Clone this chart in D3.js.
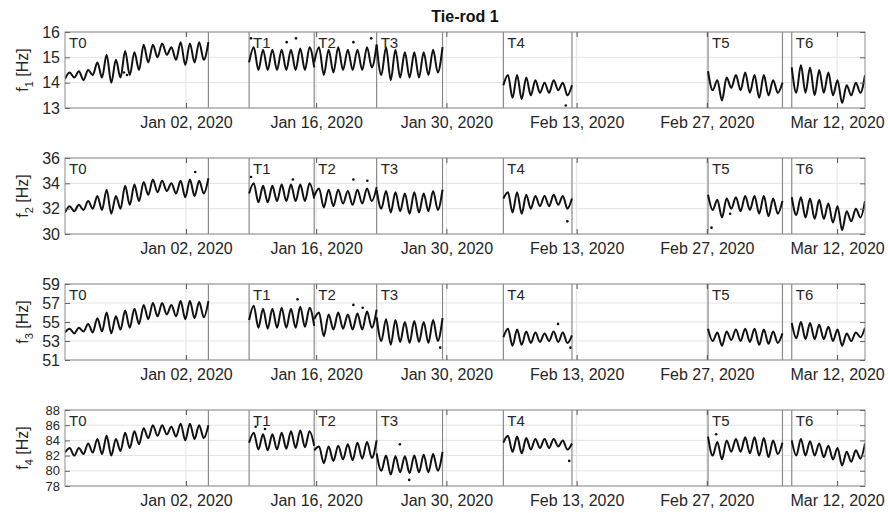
<!DOCTYPE html>
<html><head><meta charset="utf-8">
<script src="https://cdn.jsdelivr.net/npm/d3@7"></script>
<style>
body{margin:0;background:#fff}
text{font-family:"Liberation Sans",Arial,Helvetica,sans-serif}
</style>
</head><body>
<svg id="c" width="888" height="513"></svg>
<script>
// ---------- DATA ----------
const title = "Tie-rod 1";
const xDomain = ["2019-12-20T00:00", "2020-03-15T00:00"];
const tickDates = ["2020-01-02", "2020-01-16", "2020-01-30", "2020-02-13", "2020-02-27", "2020-03-12"];
const segLabels = ["T0", "T1", "T2", "T3", "T4", "T5", "T6"];
const segStart = ["2019-12-20T00:00", "2020-01-08T19:00", "2020-01-15T19:00", "2020-01-22T12:00", "2020-02-05T03:00", "2020-02-27T03:00", "2020-03-07T03:00"];
const segEnd   = ["2020-01-04T10:00", "2020-01-15T19:00", "2020-01-22T12:00", "2020-01-29T14:00", "2020-02-12T12:00", "2020-03-06T03:00", "2020-03-15T00:00"];
const boundaryDates = ["2020-01-04T10:00", "2020-01-08T19:00", "2020-01-15T19:00", "2020-01-22T12:00", "2020-01-29T14:00", "2020-02-05T03:00", "2020-02-12T12:00", "2020-02-27T03:00", "2020-03-06T03:00", "2020-03-07T03:00"];

const yLabelsIdx = ["1", "2", "3", "4"];
const yDomains = [[13, 16], [30, 36], [51, 59], [78, 88]];
const yTicks = [[13, 14, 15, 16], [30, 32, 34, 36], [51, 53, 55, 57, 59], [78, 80, 82, 84, 86, 88]];

// values per segment (T0..T6)
const f1 = [
  [14.15,14.4,14.2,14.45,14.1,14.5,14.3,14.8,14.2,15.1,14.0,14.9,14.2,15.25,14.3,15.2,14.5,15.5,14.8,15.5,15.0,15.55,15.1,15.4,14.9,15.6,14.7,15.55,14.8,15.6,14.9,15.6],
  [14.8,15.4,14.5,15.3,14.5,15.3,14.5,15.3,14.5,15.3,14.5,15.35,14.5,15.4,14.6],
  [14.8,15.4,14.3,15.3,14.4,15.4,14.5,15.3,14.5,15.3,14.5,15.4,14.6,15.5],
  [15.5,14.3,15.4,14.1,15.3,14.2,15.2,14.2,15.2,14.2,15.2,14.3,15.3,14.4,15.4],
  [13.9,14.3,13.4,14.3,13.35,14.2,13.5,14.1,13.6,14.0,13.6,14.1,13.7,14.0,13.5,13.9],
  [14.45,13.7,14.1,13.3,14.2,13.8,14.3,13.7,14.4,13.6,14.3,13.4,14.3,13.5,14.1,13.6,14.0],
  [14.6,13.6,14.7,13.6,14.6,13.5,14.5,13.6,14.4,13.5,14.1,13.2,13.9,13.5,14.0,13.6,14.3]
];
const f2 = [
  [31.7,32.2,31.8,32.3,31.9,32.6,32.0,33.0,31.9,33.5,31.6,33.0,32.0,33.8,32.3,33.9,32.6,34.1,33.1,34.3,33.3,34.2,33.4,34.0,33.2,34.2,32.9,34.3,33.0,34.2,33.2,34.4],
  [33.2,34.0,32.5,33.8,32.5,33.8,32.6,33.9,32.6,33.9,32.6,33.9,32.6,34.0,32.8],
  [33.0,33.6,32.1,33.5,32.2,33.5,32.4,33.4,32.3,33.5,32.4,33.6,32.6,33.7],
  [33.5,32.0,33.4,31.7,33.3,31.8,33.2,31.6,33.3,31.7,33.2,31.8,33.4,31.9,33.5],
  [32.8,33.3,31.7,33.3,31.6,33.1,32.0,33.0,32.2,33.0,32.2,33.1,32.3,33.0,32.0,32.8],
  [33.1,31.9,32.7,31.3,32.8,32.0,32.9,31.8,33.0,31.9,33.0,31.6,33.0,31.4,32.8,31.6,32.6],
  [32.9,31.5,32.9,31.3,32.8,31.2,32.7,31.2,32.4,30.9,32.2,30.3,31.8,31.0,32.0,31.3,32.6]
];
const f3 = [
  [53.9,54.3,53.8,54.4,54.0,54.8,53.9,55.4,54.0,56.0,53.8,55.6,54.2,56.2,54.4,56.4,54.8,56.8,55.3,57.0,55.6,57.0,55.8,56.8,55.6,57.2,55.3,57.2,55.4,57.1,55.5,57.2],
  [55.2,56.7,54.4,56.4,54.3,56.4,54.4,56.5,54.4,56.4,54.4,56.6,54.5,56.5,54.6],
  [55.3,56.0,53.5,55.8,54.2,56.0,54.3,55.8,54.2,55.9,54.2,56.1,54.4,56.3],
  [55.5,53.0,55.3,52.6,55.2,52.9,55.0,52.8,55.1,52.9,55.0,52.8,55.2,53.0,55.4],
  [53.4,54.3,52.5,54.2,52.6,54.0,52.8,53.9,52.9,53.8,53.0,54.0,52.9,53.9,52.8,53.6],
  [54.3,53.0,53.9,52.5,54.0,53.1,54.2,53.0,54.3,52.9,54.3,52.6,54.2,52.7,54.0,52.8,53.8],
  [54.9,53.3,55.0,53.2,54.9,53.2,54.7,53.2,54.5,53.0,54.2,52.5,53.8,53.0,53.9,53.4,54.4]
];
const f4 = [
  [82.4,83.0,82.0,83.0,82.2,83.6,82.4,84.2,82.2,84.6,82.0,84.2,82.6,85.0,83.0,85.2,83.5,85.6,84.3,86.0,84.6,86.0,84.8,85.8,84.5,86.2,84.0,86.2,84.2,86.0,84.3,86.0],
  [83.7,85.0,82.8,84.8,82.7,84.8,82.8,85.0,82.9,85.2,83.0,85.3,83.1,85.2,83.3],
  [82.7,83.2,81.0,83.2,81.3,83.3,81.5,83.5,81.4,83.7,81.6,83.8,81.7,84.0],
  [82.3,80.0,82.0,79.5,81.9,79.8,81.9,79.7,82.0,79.8,82.1,79.8,82.2,80.0,82.5],
  [83.7,84.6,82.5,84.5,82.3,84.3,82.8,84.2,83.0,84.2,83.0,84.2,83.2,84.0,82.8,83.6],
  [84.5,82.0,83.8,81.5,84.0,82.5,84.2,82.5,84.4,82.3,84.4,82.0,84.3,81.8,84.0,82.2,83.7],
  [84.0,82.0,84.2,82.0,83.9,82.0,83.6,81.8,83.3,81.5,83.0,80.7,82.5,81.2,82.7,81.6,83.6]
];
// isolated scattered samples
const f1Dots = [["2019-12-26T08:00",14.4],["2019-12-26T16:00",14.3],["2020-01-09T00:00",15.75],["2020-01-12T20:00",15.6],["2020-01-13T20:00",15.75],["2020-01-20T00:00",15.6],["2020-01-21T22:00",15.75],["2020-02-11T20:00",13.1]];
const f2Dots = [["2020-01-03T00:00",34.9],["2020-01-09T00:00",34.5],["2020-01-13T12:00",34.3],["2020-01-20T00:00",34.3],["2020-01-21T12:00",34.2],["2020-02-12T00:00",31.0],["2020-02-27T12:00",30.5],["2020-02-29T12:00",31.6]];
const f3Dots = [["2020-01-14T00:00",57.4],["2020-01-20T00:00",56.8],["2020-01-21T00:00",56.5],["2020-01-29T08:00",52.3],["2020-02-11T00:00",54.8],["2020-02-12T08:00",52.3]];
const f4Dots = [["2020-01-09T12:00",85.8],["2020-01-10T12:00",85.5],["2020-01-25T00:00",83.5],["2020-01-26T00:00",78.8],["2020-02-12T05:00",81.3],["2020-02-28T00:00",84.8]];

const series = [f1, f2, f3, f4];
const dots = [f1Dots, f2Dots, f3Dots, f4Dots];

// ---------- DRAW ----------
const svg = d3.select("#c");
const parse = s => new Date(s);
const L = 65, R = 865, panelTop0 = 32, panelStep = 126, panelH = 76;
const x = d3.scaleTime().domain(xDomain.map(parse)).range([L, R]);
const txtColor = "#262626";
const fmt = d3.timeFormat("%b %d, %Y");
const FF = '"Liberation Sans",Arial,sans-serif';

svg.append("text").attr("x", (L + R) / 2).attr("y", 22).attr("text-anchor", "middle")
  .attr("font-size", 16).attr("font-weight", "bold").attr("fill", "#111").text(title);

series.forEach((segs, p) => {
  const top = panelTop0 + p * panelStep, bot = top + panelH;
  const y = d3.scaleLinear().domain(yDomains[p]).range([bot, top]);
  const g = svg.append("g");
  const clipId = "clip" + p;
  svg.append("clipPath").attr("id", clipId).append("rect")
    .attr("x", L).attr("y", top).attr("width", R - L).attr("height", panelH);

  // grid
  g.selectAll(".hg").data(yTicks[p]).join("line")
    .attr("x1", L).attr("x2", R).attr("y1", d => y(d)).attr("y2", d => y(d))
    .attr("stroke", "#e3e3e3").attr("stroke-width", 1);
  g.selectAll(".vg").data(tickDates).join("line")
    .attr("x1", d => x(parse(d))).attr("x2", d => x(parse(d)))
    .attr("y1", top).attr("y2", bot).attr("stroke", "#e3e3e3").attr("stroke-width", 1);

  // segment boundaries
  g.selectAll(".bd").data(boundaryDates).join("line")
    .attr("x1", d => x(parse(d))).attr("x2", d => x(parse(d)))
    .attr("y1", top).attr("y2", bot).attr("stroke", "#8a8a8a").attr("stroke-width", 1.2);

  // data lines
  const line = d3.line().x(d => x(d.t)).y(d => y(d.v)).curve(d3.curveMonotoneX);
  const gl = g.append("g").attr("clip-path", `url(#${clipId})`);
  segs.forEach((vals, s) => {
    const t0 = parse(segStart[s]).getTime(), t1 = parse(segEnd[s]).getTime();
    const pts = vals.map((v, i) => ({ t: new Date(t0 + (t1 - t0) * i / (vals.length - 1)), v }));
    gl.append("path").attr("d", line(pts)).attr("fill", "none")
      .attr("stroke", "#111").attr("stroke-width", 2).attr("stroke-linejoin", "round");
  });
  gl.selectAll(".dot").data(dots[p]).join("circle")
    .attr("cx", d => x(parse(d[0]))).attr("cy", d => y(d[1])).attr("r", 1.3).attr("fill", "#111");

  // segment labels
  g.selectAll(".sl").data(segLabels).join("text")
    .attr("x", (d, i) => x(parse(segStart[i])) + 4).attr("y", top + 16)
    .attr("font-size", 15).attr("fill", txtColor).text(d => d);

  // axes box
  g.append("rect").attr("x", L).attr("y", top).attr("width", R - L).attr("height", panelH)
    .attr("fill", "none").attr("stroke", "#8c8c8c").attr("stroke-width", 1);

  // x ticks (inward, top & bottom)
  const xa = d3.axisBottom(x).tickValues(tickDates.map(parse)).tickFormat(fmt).tickSizeInner(-5).tickSizeOuter(0).tickPadding(9);
  const gx = g.append("g").attr("transform", `translate(0,${bot})`).call(xa);
  gx.select(".domain").remove();
  gx.selectAll("line").attr("stroke", "#555");
  gx.selectAll("text").attr("font-size", 16).attr("fill", txtColor).style("font-family", FF);
  const xt = d3.axisTop(x).tickValues(tickDates.map(parse)).tickFormat("").tickSizeInner(-5).tickSizeOuter(0);
  const gxt = g.append("g").attr("transform", `translate(0,${top})`).call(xt);
  gxt.select(".domain").remove(); gxt.selectAll("line").attr("stroke", "#555");

  // y ticks
  const ya = d3.axisLeft(y).tickValues(yTicks[p]).tickFormat(d3.format("d")).tickSizeInner(-5).tickSizeOuter(0).tickPadding(5);
  const gy = g.append("g").attr("transform", `translate(${L},0)`).call(ya);
  gy.select(".domain").remove();
  gy.selectAll("line").attr("stroke", "#666");
  gy.selectAll("text").attr("font-size", yTicks[p].length > 5 ? 13 : 16).attr("fill", txtColor).style("font-family", FF);
  const yr = d3.axisRight(y).tickValues(yTicks[p]).tickFormat("").tickSizeInner(-5).tickSizeOuter(0);
  const gyr = g.append("g").attr("transform", `translate(${R},0)`).call(yr);
  gyr.select(".domain").remove(); gyr.selectAll("line").attr("stroke", "#666");

  // y label
  const yl = g.append("text").attr("transform", `translate(28,${(top + bot) / 2}) rotate(-90)`)
    .attr("text-anchor", "middle").attr("font-size", 16).attr("fill", txtColor);
  yl.append("tspan").text("f");
  yl.append("tspan").attr("font-size", 11).attr("dy", 5).text(yLabelsIdx[p]);
  yl.append("tspan").attr("dy", -5).text(" [Hz]");
});
</script>
</body></html>
